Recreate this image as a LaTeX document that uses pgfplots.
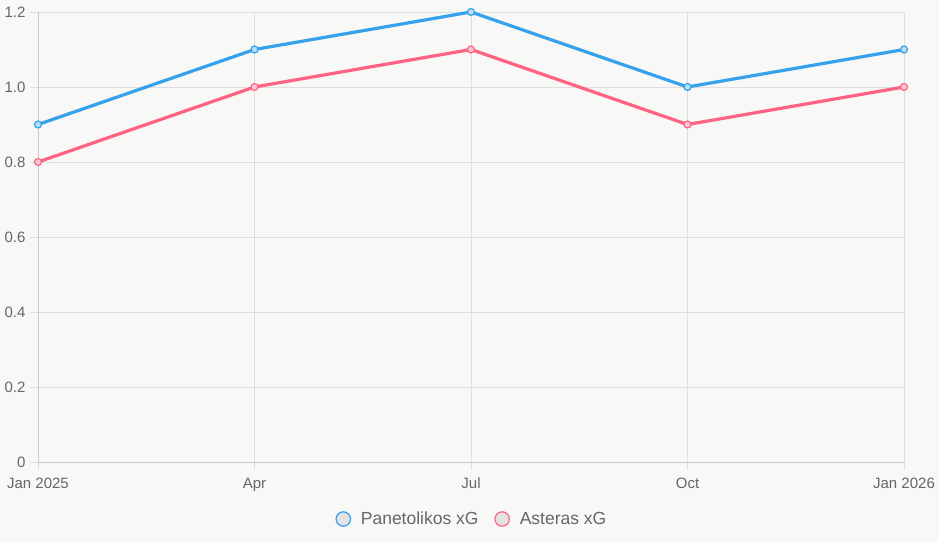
\documentclass[border=0pt]{standalone}
\usepackage{pgfplots}
\pgfplotsset{compat=1.18}
\usepackage{fontspec}
\setmainfont{Liberation Sans}
\definecolor{bgc}{HTML}{F8F8F6}
\definecolor{gridc}{HTML}{DEDEDE}
\definecolor{axc}{HTML}{C8C8C8}
\definecolor{txt}{HTML}{666666}
\definecolor{cblue}{HTML}{36A2EB}
\definecolor{cpink}{HTML}{FF6384}
\begin{document}
\begin{tikzpicture}
\fill[bgc] (-38bp,-80bp) rectangle (901bp,462bp);
\begin{axis}[
  at={(0,0)}, anchor=south west,
  scale only axis,
  width=866bp, height=450bp,
  xmin=0, xmax=4, ymin=0, ymax=1.2,
  axis lines*=left,
  axis line style={draw=axc, line width=0.8bp},
  xtick={0,1,2,3,4},
  xticklabels={Jan 2025,Apr,Jul,Oct,Jan 2026},
  ytick={0,0.2,0.4,0.6,0.8,1.0,1.2},
  yticklabels={0,0.2,0.4,0.6,0.8,1.0,1.2},
  grid=major,
  major grid style={draw=gridc, line width=0.8bp},
  tick align=outside,
  major tick length=8bp,
  tick style={draw=gridc, line width=0.8bp},
  ticklabel style={font=\fontsize{15bp}{17bp}\selectfont, text=txt},
  xticklabel style={yshift=-4bp, text height=11bp, text depth=3bp},
  yticklabel style={xshift=-1bp},
  legend columns=2,
  legend style={at={(0.5,0)}, anchor=center, yshift=-57bp, draw=none, fill=none,
    font=\fontsize{17.5bp}{19bp}\selectfont, text=txt,
    /tikz/every even column/.append style={column sep=12bp}},
  legend cell align=left,
]
\addplot[cblue, line width=3.2bp, mark=*, mark size=3.5bp,
  mark options={fill=cblue!35!white, draw=cblue, line width=1.2bp},
  legend image code/.code={\draw[fill=gray!22, draw=cblue, line width=1.2bp] (0bp,0bp) circle (7.2bp); \path (-8bp,0) (14bp,0);}]
  coordinates {(0,0.9) (1,1.1) (2,1.2) (3,1.0) (4,1.1)};
\addlegendentry{Panetolikos xG}
\addplot[cpink, line width=3.2bp, mark=*, mark size=3.5bp,
  mark options={fill=cpink!35!white, draw=cpink, line width=1.2bp},
  legend image code/.code={\draw[fill=gray!22, draw=cpink, line width=1.2bp] (0bp,0bp) circle (7.2bp); \path (-8bp,0) (14bp,0);}]
  coordinates {(0,0.8) (1,1.0) (2,1.1) (3,0.9) (4,1.0)};
\addlegendentry{Asteras xG}
\end{axis}
\path[use as bounding box] (-38bp,-80bp) rectangle (901bp,462bp);
\end{tikzpicture}
\end{document}
